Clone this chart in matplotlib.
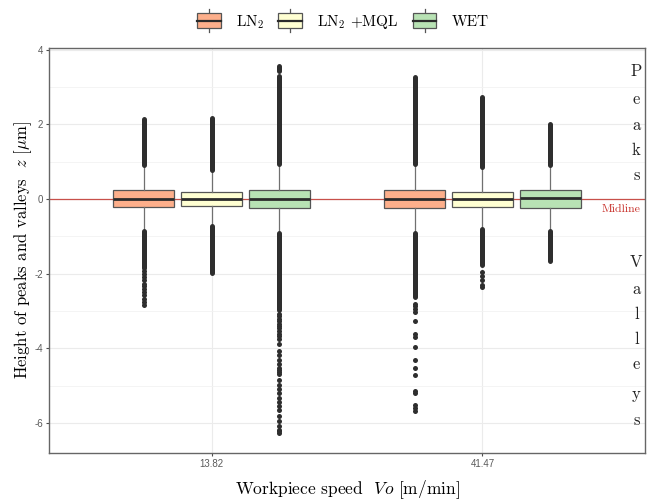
import matplotlib
matplotlib.use("Agg")
import matplotlib.pyplot as plt
from matplotlib.patches import Rectangle, Patch
from matplotlib.lines import Line2D
from matplotlib.legend_handler import HandlerBase

plt.rcParams["mathtext.fontset"] = "cm"
plt.rcParams["axes.unicode_minus"] = False

SERIF = ["cmr10", "DejaVu Serif"]
SANS = ["Liberation Sans", "DejaVu Sans"]

# ---------------- data ----------------
speeds = ["13.82", "41.47"]
fluids = ["LN$_2$", "LN$_2$ +MQL", "WET"]
fills = ["#FDAF8B", "#FFFFD2", "#B8E2B4"]

# box statistics, rows = speed, columns = fluid
q1 = [[-0.22, -0.18, -0.25], [-0.24, -0.21, -0.23]]
med = [[0.00, 0.00, 0.00], [0.00, 0.00, 0.02]]
q3 = [[0.24, 0.20, 0.24], [0.24, 0.20, 0.24]]
whislo = [[-0.85, -0.70, -0.89], [-0.88, -0.79, -0.83]]
whishi = [[0.90, 0.75, 0.93], [0.93, 0.84, 0.90]]

# stretches of outliers so dense that the points merge (lo, hi)
dense_runs = [
    [[(0.92, 2.15), (-1.85, -0.87)],
     [(0.77, 2.17), (-1.98, -0.72)],
     [(0.95, 3.30), (3.42, 3.56), (-2.98, -0.91)]],
    [[(0.95, 3.28), (-2.63, -0.90)],
     [(0.86, 2.73), (-1.77, -0.81)],
     [(0.92, 2.00), (-1.67, -0.85)]],
]

# isolated outliers
sparse_out = [
    [[-1.94, -2.01, -2.09, -2.18, -2.27, -2.33, -2.41, -2.49, -2.58, -2.67,
      -2.76, -2.85],
     [],
     [-3.07, -3.13, -3.21, -3.28, -3.34, -3.41, -3.47, -3.54, -3.61, -3.68,
      -3.74, -3.89, -4.07, -4.18, -4.32, -4.42, -4.54, -4.58, -4.63, -4.70,
      -4.85, -4.98, -5.10, -5.21, -5.34, -5.45, -5.56, -5.67, -5.83, -5.96,
      -6.09, -6.18, -6.23, -6.27]],
    [[-2.81, -2.87, -2.94, -3.03, -3.28, -3.61, -3.69, -3.96, -4.32, -4.54,
      -4.72, -5.14, -5.21, -5.52, -5.61, -5.69],
     [-1.96, -2.07, -2.18, -2.30, -2.37],
     []],
]

peaks_letters = ["P", "e", "a", "k", "s"]
peaks_y = [3.30, 2.55, 1.85, 1.18, 0.52]
valleys_letters = ["V", "a", "l", "l", "e", "y", "s"]
valleys_y = [-1.83, -2.55, -3.22, -3.90, -4.55, -5.35, -6.05]

# ---------------- figure ----------------
fig = plt.figure(figsize=(6.47, 5.01), dpi=100)
ax = fig.add_axes([49 / 647, 1 - 453 / 501, (645 - 49) / 647, (453 - 48) / 501])

offsets = [-0.25, 0.0, 0.25]
box_w = 0.225
edge = "#555555"
dot = "#2e2e2e"

ax.axhline(0, color="#C8504A", lw=0.9, zorder=1)

for i in range(len(speeds)):
    for j in range(len(fluids)):
        pos = i + 1 + offsets[j]
        stats = [dict(med=med[i][j], q1=q1[i][j], q3=q3[i][j],
                      whislo=whislo[i][j], whishi=whishi[i][j], fliers=[])]
        ax.bxp(stats, positions=[pos], widths=box_w, patch_artist=True,
               showfliers=False, showcaps=False,
               boxprops=dict(facecolor=fills[j], edgecolor=edge, lw=0.9),
               whiskerprops=dict(color="#707070", lw=0.9),
               medianprops=dict(color="#2b2b2b", lw=2.0),
               manage_ticks=False, zorder=3)
        for lo, hi in dense_runs[i][j]:
            ax.plot([pos, pos], [lo, hi], color=dot, lw=3.6,
                    solid_capstyle="round", zorder=4)
        if sparse_out[i][j]:
            ax.plot([pos] * len(sparse_out[i][j]), sparse_out[i][j], "o",
                    color=dot, ms=3.6, mew=0, zorder=4)

ax.set_xlim(0.4, 2.6)
ax.set_ylim(-6.81, 4.05)
ax.set_xticks([1, 2])
ax.set_xticklabels(speeds)
ax.set_yticks([-6, -4, -2, 0, 2, 4])
ax.set_yticks([-5, -3, -1, 1, 3], minor=True)
ax.grid(True, which="major", color="#EBEBEB", lw=0.8, zorder=0)
ax.grid(True, which="minor", axis="y", color="#F2F2F2", lw=0.6, zorder=0)
ax.set_axisbelow(True)
ax.tick_params(axis="both", which="major", length=2.5, width=0.8,
               color="#4D4D4D", labelcolor="#5a5a5a", labelsize=7, pad=1.8)
ax.tick_params(axis="y", which="minor", length=0)
for lab in ax.get_xticklabels() + ax.get_yticklabels():
    lab.set_family(SANS)
for sp in ax.spines.values():
    sp.set_color("#666666")
    sp.set_linewidth(1.0)

ax.set_xlabel("Workpiece speed  $Vo$ [m/min]", family=SERIF, fontsize=12.5)
ax.xaxis.set_label_coords(0.5, -0.062)
ax.set_ylabel(r"Height of peaks and valleys  $z$ [$\mu$m]", family=SERIF,
              fontsize=12)
ax.yaxis.set_label_coords(-0.026, 0.5)

# side annotations
for ch, y in zip(peaks_letters, peaks_y):
    ax.text(2.568, y, ch, family=SERIF, fontsize=12, ha="center",
            va="baseline", color="#222222")
for ch, y in zip(valleys_letters, valleys_y):
    ax.text(2.568, y, ch, family=SERIF, fontsize=12, ha="center",
            va="baseline", color="#222222")
ax.text(2.51, -0.27, "Midline", family=SERIF, fontsize=8.5, ha="center",
        va="center", color="#C8302A")


# legend keys drawn as little boxplots
class BoxKey(HandlerBase):
    def create_artists(self, legend, orig_handle, xdescent, ydescent,
                       width, height, fontsize, trans):
        x0, y0 = -xdescent, -ydescent
        cx, cy = x0 + width / 2, y0 + height / 2
        whisk = Line2D([cx, cx], [cy - height * 0.78, cy + height * 0.78],
                       color="#555555", lw=0.9, transform=trans)
        rect = Rectangle((x0, y0), width, height,
                         facecolor=orig_handle.get_facecolor(),
                         edgecolor="#555555", lw=0.9, transform=trans)
        mline = Line2D([x0, x0 + width], [cy, cy], color="#2b2b2b", lw=1.6,
                       transform=trans)
        return [whisk, rect, mline]


handles = [Patch(facecolor=c) for c in fills]
leg = fig.legend(handles, fluids, loc="center",
                 bbox_to_anchor=(343 / 647, 1 - 22 / 501),
                 ncol=3, frameon=False, handler_map={Patch: BoxKey()},
                 prop={"family": SERIF, "size": 11}, handlelength=1.55,
                 handleheight=1.1, handletextpad=1.0, columnspacing=0.9)

fig.savefig("out.png", dpi=100)
